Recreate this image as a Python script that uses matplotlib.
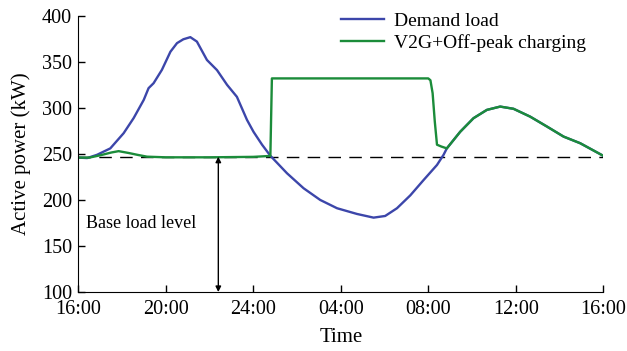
import numpy as np
import matplotlib.pyplot as plt

plt.rcParams['font.family'] = ['Liberation Serif', 'DejaVu Serif']

# hours after 16:00
demand_h = [0, 0.4, 0.85, 1.46, 2.07, 2.53, 2.99, 3.21, 3.44, 3.82, 4.21, 4.51, 4.8, 5.12,
            5.42, 5.88, 6.34, 6.8, 7.25, 7.71, 8.01, 8.4, 8.78, 9.54, 10.3, 11.06, 11.83,
            12.74, 13.5, 14.03, 14.57, 15.18, 15.79, 16.4, 16.7, 16.85, 17.46, 18.07,
            18.68, 19.29, 19.9, 20.66, 21.43, 22.19, 22.95, 24.0]
demand_kw = [246, 245.5, 249, 256, 272.5, 289, 308.7, 321.4, 326.8, 341.3, 361, 370.3, 374.5,
             376.8, 372, 352, 341, 325, 312, 287, 274, 260, 248, 229, 212.7, 200, 191,
             184.8, 180.8, 182.6, 191, 205, 221.7, 238, 249, 256, 274, 288.8,
             297.8, 301.4, 299, 290.5, 279.7, 268.8, 261.6, 248]

v2g_h = [0, 0.5, 1.0, 1.5, 1.84, 2.3, 2.7, 3.14, 4.0, 6.0, 8.0, 8.78, 8.85, 16.0,
         16.1, 16.2, 16.3, 16.4, 16.6]
v2g_kw = [246, 246, 248.5, 251.5, 253, 251, 249, 247, 246.3, 246.3, 246.8, 247.8, 332, 332,
          330, 316, 285, 260, 258]

base_load = 247
ticks_h = [0, 4, 8, 12, 16, 20, 24]
tick_labels = ['16:00', '20:00', '24:00', '04:00', '08:00', '12:00', '16:00']

# after the off-peak charging ends the V2G curve follows the demand load
dh = np.array(demand_h)
dk = np.array(demand_kw)
tail = dh >= 16.8
g_h = np.concatenate([v2g_h, dh[tail]])
g_kw = np.concatenate([v2g_kw, dk[tail]])

fig, ax = plt.subplots(figsize=(6.27, 3.51), dpi=100)
fig.subplots_adjust(left=0.125, right=0.962, bottom=0.168, top=0.955)

ax.plot(dh, dk, color='#3c46aa', lw=1.7, label='Demand load')
ax.plot(g_h, g_kw, color='#1b8c3a', lw=1.7, label='V2G+Off-peak charging')
ax.axhline(base_load, color='black', lw=1, ls=(0, (9, 6)), zorder=0)

ax.annotate('', xy=(6.4, base_load), xytext=(6.4, 100),
            arrowprops=dict(arrowstyle='<|-|>', color='black', lw=1,
                            mutation_scale=8, shrinkA=0, shrinkB=0))
ax.text(0.35, 174, 'Base load level', fontsize=13, va='center')

ax.set_xlim(0, 24)
ax.set_ylim(100, 400)
ax.set_xticks(ticks_h)
ax.set_xticklabels(tick_labels)
ax.set_yticks(np.arange(100, 401, 50))
ax.tick_params(direction='in', labelsize=14.5, length=5, width=1)
ax.tick_params(axis='x', pad=6)
ax.tick_params(axis='y', pad=4.5)
ax.spines['top'].set_visible(False)
ax.spines['right'].set_visible(False)
ax.set_xlabel('Time', fontsize=15, labelpad=6)
ax.set_ylabel('Active power (kW)', fontsize=15, labelpad=8)

ax.legend(loc='upper right', bbox_to_anchor=(1.0, 1.075), frameon=False, fontsize=14,
          handlelength=2.2, handletextpad=0.5, labelspacing=0.2)

fig.savefig('out.png', dpi=100)
